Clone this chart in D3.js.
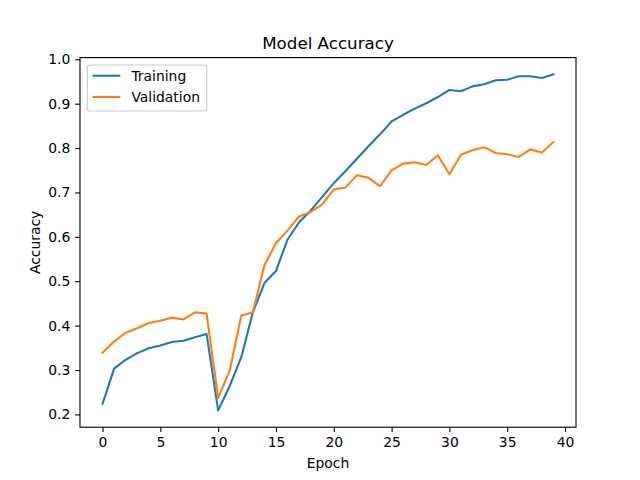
<!DOCTYPE html>
<html><head><meta charset="utf-8">
<script src="https://cdn.jsdelivr.net/npm/d3@7"></script>
<style>body{margin:0;background:#fff}svg{display:block;font-family:"DejaVu Sans",sans-serif}</style>
</head><body><svg id="c" width="640" height="480"></svg>
<script>
const epochs = d3.range(0, 40);
const training = [0.224,0.303,0.323,0.338,0.349,0.355,0.363,0.366,0.374,0.381,
  0.209,0.264,0.329,0.430,0.496,0.523,0.594,0.633,0.659,0.690,
  0.721,0.748,0.776,0.804,0.831,0.860,0.875,0.889,0.901,0.915,
  0.931,0.928,0.939,0.944,0.953,0.954,0.962,0.962,0.958,0.966];
const validation = [0.339,0.364,0.384,0.394,0.406,0.411,0.418,0.414,0.430,0.427,
  0.237,0.299,0.423,0.430,0.536,0.586,0.614,0.646,0.656,0.673,
  0.707,0.711,0.739,0.733,0.714,0.750,0.765,0.768,0.762,0.784,
  0.741,0.785,0.795,0.802,0.789,0.786,0.780,0.797,0.790,0.814];
const xTicks = [0,5,10,15,20,25,30,35,40];
const yTicks = [0.2,0.3,0.4,0.5,0.6,0.7,0.8,0.9,1.0];
const seriesNames = ["Training","Validation"];
const colors = ["#1f77b4","#ff7f0e"];

const svg = d3.select("#c");
const L=80, R=576, T=57.6, B=427.2;
const all = training.concat(validation);
const ymin=d3.min(all), ymax=d3.max(all), yr=ymax-ymin;
const x = d3.scaleLinear().domain([-1.95, 40.95]).range([L,R]);
const y = d3.scaleLinear().domain([ymin-0.05*yr, ymax+0.05*yr]).range([B,T]);

const line = d3.line().x((d,i)=>x(epochs[i])).y(d=>y(d));
[training, validation].forEach((s,k)=>{
  svg.append("path").attr("d", line(s)).attr("fill","none")
    .attr("stroke", colors[k]).attr("stroke-width",2.08)
    .attr("stroke-linejoin","round").attr("stroke-linecap","square");
});

const xAxis = svg.append("g").attr("transform",`translate(0,${B})`)
  .call(d3.axisBottom(x).tickValues(xTicks).tickSize(4.86).tickPadding(4.86).tickFormat(d3.format("d")));
const yAxis = svg.append("g").attr("transform",`translate(${L},0)`)
  .call(d3.axisLeft(y).tickValues(yTicks).tickSize(4.86).tickPadding(4.86).tickFormat(d3.format(".1f")));
[xAxis,yAxis].forEach(a=>{
  a.select(".domain").remove();
  a.selectAll(".tick line").attr("stroke","#000").attr("stroke-width",1.11);
  a.selectAll(".tick text").attr("font-size","13.9px").attr("fill","#000").attr("font-family","DejaVu Sans");
});
svg.append("rect").attr("x",L).attr("y",T).attr("width",R-L).attr("height",B-T)
  .attr("fill","none").attr("stroke","#000").attr("stroke-width",1.11);

svg.append("text").attr("x",(L+R)/2).attr("y",T-8.3).attr("text-anchor","middle")
  .attr("font-size","16.7px").text("Model Accuracy");
svg.append("text").attr("x",(L+R)/2).attr("y",468).attr("text-anchor","middle")
  .attr("font-size","13.9px").text("Epoch");
svg.append("text").attr("transform",`translate(40,${(T+B)/2}) rotate(-90)`).attr("text-anchor","middle")
  .attr("font-size","13.9px").text("Accuracy");

const lg = svg.append("g");
lg.append("rect").attr("x",87.3).attr("y",65).attr("width",119.4).attr("height",46).attr("rx",2.8)
  .attr("fill","#fff").attr("fill-opacity",0.8).attr("stroke","#ccc").attr("stroke-width",1.11);
seriesNames.forEach((n,k)=>{
  const yy = 75.7 + k*21.3;
  lg.append("line").attr("x1",92.5).attr("x2",120.3).attr("y1",yy).attr("y2",yy)
    .attr("stroke",colors[k]).attr("stroke-width",2.08);
  lg.append("text").attr("x",131.4).attr("y",yy+4.9).attr("font-size","13.9px").text(n);
});
</script></body></html>
